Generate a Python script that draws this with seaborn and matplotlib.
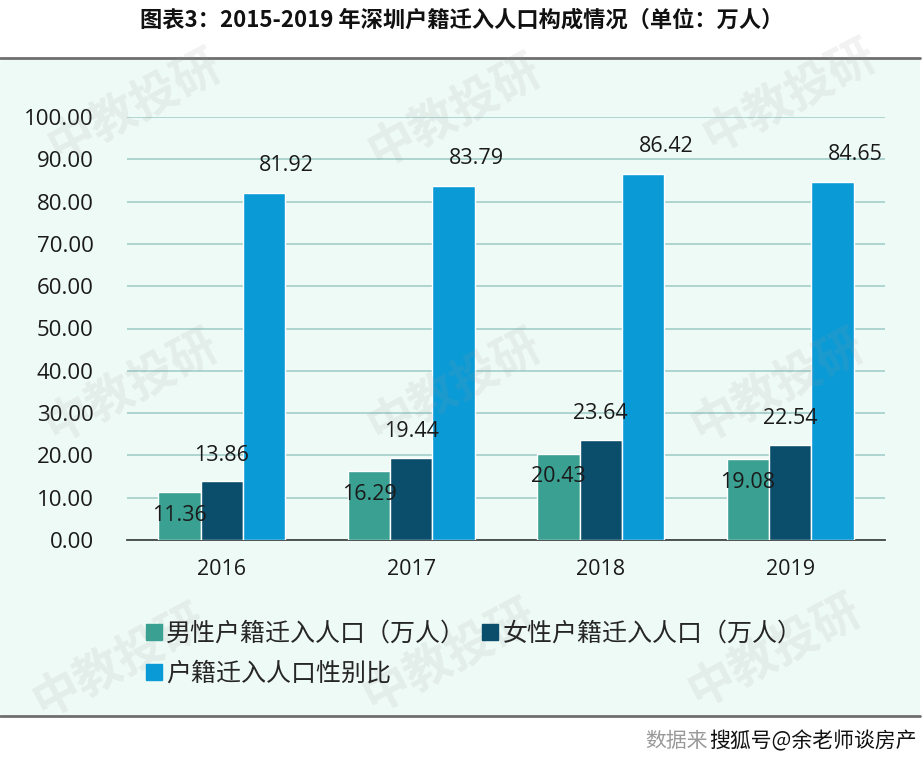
import matplotlib
matplotlib.use("Agg")
import matplotlib.pyplot as plt
from matplotlib.patches import Rectangle
from matplotlib.lines import Line2D
import seaborn as sns
import pandas as pd

# data
years = ["2016", "2017", "2018", "2019"]
male = [11.36, 16.29, 20.43, 19.08]
female = [13.86, 19.44, 23.64, 22.54]
ratio = [81.92, 83.79, 86.42, 84.65]
series_names = ["男性户籍迁入人口（万人）", "女性户籍迁入人口（万人）", "户籍迁入人口性别比"]
colors = ["#3aa092", "#0b4e6b", "#0a9bd6"]
yticks = [0, 10, 20, 30, 40, 50, 60, 70, 80, 90, 100]

df = pd.DataFrame({
    "year": years * 3,
    "value": male + female + ratio,
    "series": [series_names[0]] * 4 + [series_names[1]] * 4 + [series_names[2]] * 4,
})

sns.set_style("white")
cjk = ["Noto Sans CJK SC", "DejaVu Sans"]
plt.rcParams["font.family"] = cjk

W, H = 924, 761
fig = plt.figure(figsize=(W / 100, H / 100), dpi=100)
fig.patch.set_facecolor("white")

# mint panel with border lines
bg = "#eefaf5"
fig.patches.append(Rectangle((0, 1 - 716 / H), 920 / W, (716 - 58) / H,
                             transform=fig.transFigure, facecolor=bg,
                             edgecolor="none", zorder=-10))
for yy in (58, 716):
    fig.add_artist(Line2D([0, 920 / W], [1 - yy / H, 1 - yy / H],
                          transform=fig.transFigure, color="#6f6f6f", lw=2))

ax = fig.add_axes([127 / W, 1 - 540 / H, (885 - 127) / W, (540 - 117) / H])
ax.set_facecolor("none")

sns.barplot(data=df, x="year", y="value", hue="series", palette=colors,
            width=0.67, saturation=1, ax=ax, legend=False, zorder=3)

ax.set_ylim(0, 100)
ax.set_xlim(-0.5, 3.5)
ax.set_yticks(yticks)
ax.set_yticklabels([f"{v:.2f}" for v in yticks], fontfamily="Open Sans",
                   fontsize=16, color="#1a1a1a")
ax.tick_params(axis="y", length=0, pad=24)
ax.yaxis.grid(True, color="#a8d2cd", lw=1.3)
ax.set_axisbelow(True)
ax.set_xlabel("")
ax.set_ylabel("")
ax.set_xticks(range(4))
ax.set_xticklabels(years, fontfamily="Open Sans", fontsize=15.5, color="#1a1a1a")
ax.tick_params(axis="x", length=0, pad=14)
ax.set_xticks([-0.5, 0.5, 1.5, 2.5, 3.5], minor=True)
ax.tick_params(axis="x", which="minor", length=7, width=1.3, color="#444444")
for s in ["left", "right", "top"]:
    ax.spines[s].set_visible(False)
ax.spines["bottom"].set_color("#444444")
ax.spines["bottom"].set_linewidth(1.3)

# value labels
bw = 0.67 / 3
lab = dict(fontfamily="Open Sans", fontsize=15.5, color="#1a1a1a", ha="center", va="center")
for i in range(4):
    ax.text(i - bw, male[i] - 5.5, f"{male[i]:.2f}", **lab)
    ax.text(i, female[i] + 6.2, f"{female[i]:.2f}", **lab)
    ax.text(i + bw + 0.12, ratio[i] + 6.5, f"{ratio[i]:.2f}", **lab)

# legend (row-wise order: male, female / ratio)
handles = [Line2D([], [], marker="s", ls="none", markersize=11, color=c) for c in colors]
order = [0, 2, 1]
fig.legend([handles[k] for k in order], [series_names[k] for k in order],
           loc="upper left", bbox_to_anchor=(120 / W, 1 - 598 / H),
           ncol=2, frameon=False, prop={"family": cjk, "size": 18},
           handletextpad=0.05, columnspacing=0.5, labelspacing=0.55, handlelength=0.9)

# title
fig.text(0.5, 1 - 20 / H, "图表3：2015-2019 年深圳户籍迁入人口构成情况（单位：万人）",
         ha="center", va="center", fontsize=16, fontweight="bold", color="#111111")

# watermarks
for (px, py) in [(135, 105), (455, 110), (790, 95), (132, 385), (455, 385),
                 (778, 385), (120, 660), (450, 655), (775, 650)]:
    fig.text(px / W, 1 - py / H, "中教投研", fontsize=34, fontweight="bold",
             color="#9a9a9a", alpha=0.13, rotation=28, ha="center", va="center")

# source
fig.text(708 / W, 1 - 741 / H, "数据来", ha="right", va="center",
         fontsize=15, color="#9a9a9a")
fig.text(917 / W, 1 - 741 / H, "搜狐号@余老师谈房产", ha="right", va="center",
         fontsize=15, color="#111111")

fig.savefig("out.png", dpi=100)
